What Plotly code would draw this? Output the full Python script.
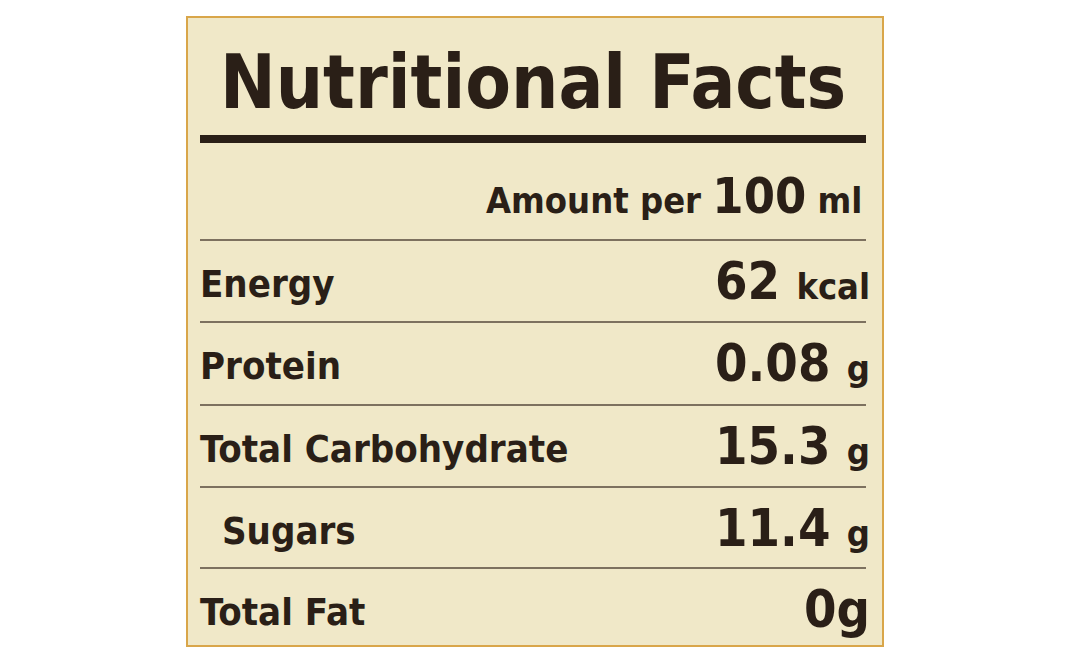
import plotly.graph_objects as go

# Contenido de la etiqueta
NUTRIENTES = ["Energy", "Protein", "Total Carbohydrate", "Sugars", "Total Fat"]
VALORES = ["62", "0.08", "15.3", "11.4", "0"]
UNIDADES = ["kcal", "g", "g", "g", "g"]
SANGRIA = [False, False, False, True, False]

TINTA = "#2a1f17"
FUENTE = "Liberation Sans Narrow, DejaVu Sans Condensed, sans-serif"

fig = go.Figure()

# Panel beige
fig.add_shape(type="rect", x0=187, x1=883, y0=17, y1=646,
              fillcolor="#f0e8c8", line=dict(color="#d9a64a", width=2), layer="below")

# Título y línea gruesa
fig.add_annotation(x=218, y=82, text="<b>Nutritional Facts</b>", showarrow=False,
                   xanchor="left", yanchor="middle",
                   font=dict(size=74, color=TINTA, family=FUENTE))
fig.add_shape(type="line", x0=200, x1=866, y0=139, y1=139,
              line=dict(color=TINTA, width=8))

fig.add_annotation(x=864, y=196, showarrow=False, xanchor="right", yanchor="middle",
                   text="<b>Amount per <span style='font-size:50px'>100</span> ml</b>",
                   font=dict(size=36, color=TINTA, family=FUENTE))

separadores = [240, 322, 405, 487, 568]
for y in separadores:
    fig.add_shape(type="line", x0=200, x1=866, y0=y, y1=y,
                  line=dict(color="#7d715f", width=2))

for i, (nombre, valor, unidad) in enumerate(zip(NUTRIENTES, VALORES, UNIDADES)):
    yc = separadores[i] + 41
    x_nombre = 220 if SANGRIA[i] else 198
    fig.add_annotation(x=x_nombre, y=yc + 3, text=f"<b>{nombre}</b>", showarrow=False,
                       xanchor="left", yanchor="middle",
                       font=dict(size=38, color=TINTA, family=FUENTE))
    if unidad == "g" and valor == "0":
        texto = f"<b>{valor}{unidad}</b>"
    else:
        texto = f"<b>{valor} <span style='font-size:36px'>{unidad}</span></b>"
    fig.add_annotation(x=872, y=yc, text=texto, showarrow=False,
                       xanchor="right", yanchor="middle",
                       font=dict(size=52, color=TINTA, family=FUENTE))

# La página añade un margen de 8 px; se compensa desplazando los rangos.
fig.update_xaxes(range=[8, 1076], visible=False, fixedrange=True)
fig.update_yaxes(range=[679, 8], visible=False, fixedrange=True)
fig.update_layout(width=1068, height=671, margin=dict(l=0, r=0, t=0, b=0),
                  paper_bgcolor="white", plot_bgcolor="white", showlegend=False)

fig.write_html("out.html")
